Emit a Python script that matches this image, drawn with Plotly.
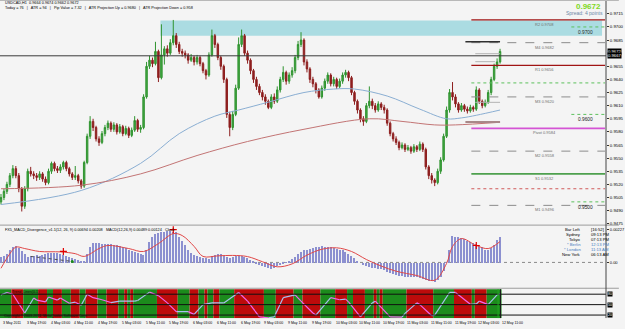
import plotly.graph_objects as go

# ---------------- data ----------------
date_labels = ["3 May 2011", "3 May 19:00", "4 May 03:00", "4 May 11:00", "4 May 19:00",
               "5 May 03:00", "5 May 11:00", "5 May 19:00", "6 May 03:00", "6 May 11:00",
               "6 May 19:00", "9 May 03:00", "9 May 11:00", "9 May 19:00", "10 May 03:00",
               "10 May 11:00", "10 May 19:00", "11 May 03:00", "11 May 11:00", "11 May 19:00",
               "12 May 03:00", "12 May 11:00"]
date_label_bars = [0, 8, 16, 24, 32, 40, 48, 56, 64, 72, 80, 88, 96, 104, 112, 120, 128,
                   136, 144, 152, 160, 168]

# USDCAD H1 candles, in pips (x 1e-4)
opens = [9500, 9505, 9512, 9520, 9530, 9538, 9530, 9515, 9495, 9515,
         9535, 9532, 9530, 9528, 9532, 9526, 9522, 9535, 9544, 9538,
         9536, 9540, 9545, 9538, 9532, 9528, 9530, 9524, 9518, 9545,
         9575, 9592, 9585, 9572, 9568, 9578, 9585, 9590, 9583, 9588,
         9580, 9586, 9578, 9584, 9576, 9582, 9593, 9583, 9585, 9620,
         9655, 9662, 9658, 9672, 9642, 9668, 9675, 9670, 9682, 9690,
         9680, 9672, 9670, 9668, 9662, 9665, 9660, 9665, 9658, 9650,
         9645, 9668, 9690, 9680, 9665, 9655, 9640, 9600, 9585, 9600,
         9630, 9680, 9690, 9670, 9662, 9650, 9640, 9632, 9625, 9620,
         9615, 9608, 9620, 9615, 9628, 9640, 9648, 9638, 9645, 9650,
         9665, 9680, 9685, 9660, 9652, 9640, 9635, 9628, 9620, 9630,
         9638, 9645, 9635, 9640, 9632, 9638, 9645, 9648, 9642, 9625,
         9615, 9605, 9595, 9592, 9610, 9615, 9610, 9605, 9612, 9608,
         9605, 9590, 9578, 9572, 9568, 9562, 9565, 9560, 9562, 9558,
         9563, 9560, 9566, 9560, 9540, 9530, 9525, 9522, 9535, 9548,
         9575, 9605, 9625, 9620, 9612, 9605, 9610, 9606, 9604, 9608,
         9606, 9628, 9615, 9610, 9614, 9625, 9640, 9655, 9660]
highs = [9509, 9515, 9523, 9533, 9542, 9541, 9533, 9517, 9518, 9538,
         9540, 9535, 9533, 9535, 9534, 9529, 9538, 9546, 9546, 9541,
         9543, 9547, 9547, 9540, 9534, 9541, 9532, 9526, 9547, 9578,
         9598, 9595, 9587, 9575, 9581, 9588, 9593, 9592, 9591, 9590,
         9589, 9588, 9587, 9586, 9585, 9598, 9595, 9588, 9623, 9660,
         9667, 9665, 9683, 9674, 9703, 9678, 9679, 9686, 9708, 9693,
         9683, 9675, 9673, 9670, 9669, 9667, 9668, 9667, 9660, 9652,
         9671, 9697, 9692, 9682, 9667, 9657, 9642, 9603, 9604, 9634,
         9688, 9697, 9692, 9673, 9664, 9652, 9643, 9635, 9628, 9623,
         9617, 9623, 9624, 9632, 9643, 9655, 9650, 9648, 9654, 9668,
         9684, 9694, 9687, 9663, 9654, 9643, 9637, 9630, 9633, 9641,
         9648, 9647, 9643, 9642, 9641, 9648, 9651, 9650, 9644, 9627,
         9617, 9607, 9598, 9613, 9632, 9618, 9613, 9615, 9614, 9611,
         9607, 9592, 9580, 9575, 9570, 9568, 9567, 9565, 9564, 9566,
         9565, 9569, 9568, 9562, 9542, 9533, 9527, 9538, 9551, 9578,
         9609, 9629, 9637, 9623, 9614, 9613, 9612, 9609, 9611, 9610,
         9632, 9630, 9617, 9617, 9628, 9643, 9658, 9664, 9675]
lows = [9497, 9502, 9509, 9517, 9527, 9527, 9511, 9489, 9492, 9512,
        9529, 9526, 9524, 9525, 9523, 9519, 9520, 9532, 9535, 9533,
        9533, 9537, 9535, 9529, 9525, 9525, 9521, 9515, 9516, 9543,
        9572, 9581, 9569, 9564, 9566, 9575, 9582, 9580, 9580, 9577,
        9578, 9575, 9576, 9573, 9574, 9580, 9580, 9579, 9583, 9618,
        9652, 9654, 9656, 9637, 9640, 9657, 9666, 9668, 9679, 9676,
        9669, 9666, 9664, 9658, 9660, 9656, 9657, 9655, 9647, 9640,
        9643, 9666, 9676, 9662, 9651, 9636, 9596, 9575, 9582, 9598,
        9628, 9677, 9667, 9658, 9646, 9636, 9628, 9622, 9616, 9611,
        9606, 9606, 9612, 9613, 9625, 9637, 9634, 9635, 9642, 9647,
        9662, 9677, 9656, 9648, 9636, 9631, 9624, 9618, 9618, 9627,
        9635, 9632, 9632, 9629, 9630, 9635, 9642, 9638, 9622, 9611,
        9601, 9591, 9587, 9590, 9607, 9606, 9602, 9603, 9605, 9601,
        9587, 9575, 9569, 9565, 9559, 9560, 9557, 9558, 9555, 9556,
        9557, 9558, 9557, 9537, 9526, 9521, 9518, 9520, 9532, 9546,
        9573, 9602, 9616, 9608, 9602, 9603, 9603, 9601, 9602, 9603,
        9604, 9612, 9607, 9608, 9612, 9622, 9638, 9652, 9658]
closes = [9505, 9512, 9520, 9530, 9538, 9530, 9515, 9495, 9515, 9535,
          9532, 9530, 9528, 9532, 9526, 9522, 9535, 9544, 9538, 9536,
          9540, 9545, 9538, 9532, 9528, 9530, 9524, 9518, 9545, 9575,
          9592, 9585, 9572, 9568, 9578, 9585, 9590, 9583, 9588, 9580,
          9586, 9578, 9584, 9576, 9582, 9593, 9583, 9585, 9620, 9655,
          9662, 9658, 9672, 9642, 9668, 9675, 9670, 9682, 9690, 9680,
          9672, 9670, 9668, 9662, 9665, 9660, 9665, 9658, 9650, 9645,
          9668, 9690, 9680, 9665, 9655, 9640, 9600, 9585, 9600, 9630,
          9680, 9690, 9670, 9662, 9650, 9640, 9632, 9625, 9620, 9615,
          9608, 9620, 9615, 9628, 9640, 9648, 9638, 9645, 9650, 9665,
          9680, 9685, 9660, 9652, 9640, 9635, 9628, 9620, 9630, 9638,
          9645, 9635, 9640, 9632, 9638, 9645, 9648, 9642, 9625, 9615,
          9605, 9595, 9592, 9610, 9615, 9610, 9605, 9612, 9608, 9605,
          9590, 9578, 9572, 9568, 9562, 9565, 9560, 9562, 9558, 9563,
          9560, 9566, 9560, 9540, 9530, 9525, 9522, 9535, 9548, 9575,
          9605, 9625, 9620, 9612, 9605, 9610, 9606, 9604, 9608, 9606,
          9628, 9615, 9610, 9614, 9625, 9640, 9655, 9660, 9672]

# moving averages (bar, pips)
ma_blue_bars = [0, 27, 47, 60, 72, 80, 90, 102, 112, 119, 130, 141, 150, 155, 160, 168]
ma_blue = [9497, 9513, 9544, 9578, 9598, 9605, 9614, 9625, 9629, 9629, 9621, 9606, 9595, 9596, 9599, 9605]
ma_red_bars = [0, 27, 47, 66, 83, 102, 124, 135, 146, 153, 168]
ma_red = [9515, 9519, 9532, 9553, 9569, 9583, 9595, 9592, 9588, 9588, 9591]

# pivot levels
pivot_names = ["R2", "M4", "R1", "M3", "Pivot", "M2", "S1", "M1"]
pivot_values = [0.9708, 0.9682, 0.9656, 0.9620, 0.9584, 0.9558, 0.9532, 0.9496]
round_levels = [0.9700, 0.9600, 0.9500]
zone_low, zone_high = 0.9690, 0.97073
hline_price = 0.9667
bid, ask_line = 0.9672, 0.9667
dotted_green_level, dotted_red_level = 0.9636, 0.9515
short_levels = [0.96831, 0.96694, 0.96603, 0.96138, 0.95913]

price_ticks = [0.9730, 0.9715, 0.9700, 0.9685, 0.9655, 0.9640, 0.9625, 0.9610, 0.9595,
               0.9580, 0.9565, 0.9550, 0.9535, 0.9520, 0.9505, 0.9490, 0.9475]

# MACD histogram (x 1e-5)
macd_hist = [40, 45, 60, 85, 110, 115, 100, 80, 60, 40,
             45, 50, 52, 50, 55, 60, 65, 68, 66, 64,
             60, 55, 48, 42, 36, 28, 20, 12, 10, 60,
             110, 135, 138, 135, 130, 128, 130, 128, 125, 120,
             112, 105, 98, 90, 82, 75, 68, 60, 55, 90,
             140, 175, 195, 205, 210, 212, 215, 218, 214, 208,
             180, 150, 120, 90, 70, 55, 45, 40, 35, 30,
             28, 45, 55, 60, 58, 50, 40, 35, 38, 45,
             50, 48, 40, 30, 20, 8, -5, -15, -25, -32,
             -38, -40, -35, -25, -15, -5, 5, 15, 25, 40,
             60, 75, 85, 90, 95, 100, 105, 110, 112, 110,
             108, 105, 100, 95, 90, 85, 75, 60, 45, 30,
             15, 0, -15, -25, -30, -35, -38, -40, -45, -52,
             -60, -70, -78, -85, -90, -93, -95, -96, -97, -98,
             -100, -102, -108, -115, -122, -128, -129, -120, -95, -55,
             5, 90, 184, 180, 176, 170, 160, 150, 142, 135,
             128, 115, 105, 90, 88, 100, 125, 155, 177]
signal_bars = [0, 3, 5, 8, 13, 20, 25, 28, 33, 36, 43, 48, 53, 58, 61, 65, 68, 73, 78, 83,
               88, 93, 98, 103, 108, 113, 118, 123, 128, 133, 140, 146, 150, 152, 155, 160, 164, 168]
signal_vals = [-40, 60, 105, 95, 75, 72, 60, 41, 95, 116, 95, 75, 129, 197, 184, 110, 41, 45, 48, 40,
               5, -30, -10, 50, 90, 100, 75, 20, -25, -60, -90, -122, -7, 109, 163, 116, 95, 143]
peak_marks_bars = [21, 58, 160]
peak_marks_vals = [75, 224, 116]
trough_mark_bars = [24]
trough_mark_vals = [7]
div_bars = [10, 24]
div_vals = [41, 7]

clock_names = ["Bar Left", "Sydney", "Tokyo", "* Berlin", "* London", "New York"]
clock_times = ["[16:52]", "09:13 PM", "07:13 PM", "12:13 PM", "11:13 AM", "06:13 AM"]

# bottom oscillator
osc_bars = [0, 2, 4, 8, 11, 12, 15, 16, 19, 20, 23, 25, 27, 29, 31, 34, 37, 40, 45, 46,
            50, 53, 56, 59, 63, 65, 68, 71, 75, 80, 83, 87, 90, 92, 95, 99, 101, 105, 106, 111,
            114, 116, 117, 121, 125, 126, 131, 135, 136, 140, 141, 145, 146, 151, 153, 158, 160,
            161, 164, 167, 168]
osc_vals = [78, 85, 80, 26, 69, 63, 58, 72, 63, 69, 54, 57, 48, 80, 70, 64, 56, 60, 60, 62,
            86, 76, 55, 30, 30, 22, 50, 55, 55, 85, 60, 15, 12, 15, 70, 78, 60, 26, 20, 70,
            64, 66, 58, 15, 55, 60, 15, 14, 25, 55, 50, 18, 20, 85, 85, 51, 52, 60, 50, 78, 80]
osc_levels = [80, 50, 20]
band_edges = [-0.5, 3.5, 7.5, 12.5, 15.5, 17.5, 20.5, 23.5, 26.5, 28.5,
              32.5, 35.5, 39.5, 41.5, 42.5, 43.5, 44.5, 52.5, 59.5, 63.5,
              66.5, 68.5, 69.5, 71.5, 73.5, 78.5, 88.5, 92.5, 98.5, 101.5,
              107.5, 112.5, 116.5, 118.5, 122.5, 125.5, 126.5, 127.5, 128.5, 136.5,
              145.5, 152.5, 158.5, 159.5, 163.5, 168.5]
band_trend = ["G", "R"] * 22 + ["G"]

N = len(closes)
assert len(opens) == N and len(highs) == N and len(lows) == N and len(macd_hist) == N
assert len(band_trend) == len(band_edges) - 1
bars = list(range(N))

# ---------------- geometry helpers ----------------
W, H = 625, 329
PLOT_W = 612


def bx(px):
    return (px - 1.0) / 3.0


def py(px):
    return 1.0 - px / H


def pxx(px):
    return px / PLOT_W


def price_at(px):
    return 0.9730 - (px - 0.7) / 8800.0


FONT = "Liberation Sans, Arial, sans-serif"
BG = "#f4f4f4"

fig = go.Figure()

# ---------------- main chart ----------------
fig.add_trace(go.Candlestick(
    x=bars, open=[v / 1e4 for v in opens], high=[v / 1e4 for v in highs],
    low=[v / 1e4 for v in lows], close=[v / 1e4 for v in closes],
    increasing=dict(line=dict(color="#2f932f", width=1), fillcolor="#44a844"),
    decreasing=dict(line=dict(color="#8e1f1f", width=1), fillcolor="#8e1f1f"),
    whiskerwidth=0, showlegend=False, xaxis="x", yaxis="y", hoverinfo="skip"))
fig.add_trace(go.Scatter(x=ma_blue_bars, y=[v / 1e4 for v in ma_blue], mode="lines",
                         line=dict(color="#8aaed2", width=1, shape="spline"),
                         showlegend=False, xaxis="x", yaxis="y", hoverinfo="skip"))
fig.add_trace(go.Scatter(x=ma_red_bars, y=[v / 1e4 for v in ma_red], mode="lines",
                         line=dict(color="#c27474", width=1, shape="spline"),
                         showlegend=False, xaxis="x", yaxis="y", hoverinfo="skip"))

# ---------------- MACD panel ----------------
fig.add_trace(go.Bar(x=bars, y=[v / 1e5 for v in macd_hist], width=0.4,
                     marker=dict(color="#8c90d0", line=dict(width=0)),
                     showlegend=False, xaxis="x2", yaxis="y2", hoverinfo="skip"))
fig.add_trace(go.Scatter(x=signal_bars, y=[v / 1e5 for v in signal_vals], mode="lines",
                         line=dict(color="#e04848", width=1, shape="spline"),
                         showlegend=False, xaxis="x2", yaxis="y2", hoverinfo="skip"))
fig.add_trace(go.Scatter(x=div_bars, y=[v / 1e5 for v in div_vals], mode="lines",
                         line=dict(color="#505050", width=1, dash="dot"),
                         showlegend=False, xaxis="x2", yaxis="y2", hoverinfo="skip"))
fig.add_trace(go.Scatter(x=peak_marks_bars, y=[v / 1e5 for v in peak_marks_vals], mode="markers",
                         marker=dict(symbol="cross-thin", size=5, line=dict(color="#e00000", width=1.2)),
                         showlegend=False, xaxis="x2", yaxis="y2", hoverinfo="skip"))
fig.add_trace(go.Scatter(x=trough_mark_bars, y=[v / 1e5 for v in trough_mark_vals], mode="markers",
                         marker=dict(symbol="circle", size=3, color="#1a8a1a"),
                         showlegend=False, xaxis="x2", yaxis="y2", hoverinfo="skip"))

# ---------------- oscillator panel ----------------
up_x, up_y, dn_x, dn_y = [], [], [], []
for k in range(len(osc_bars) - 1):
    seg_x = [osc_bars[k], osc_bars[k + 1], None]
    seg_y = [osc_vals[k], osc_vals[k + 1], None]
    if osc_vals[k + 1] >= osc_vals[k]:
        up_x += seg_x
        up_y += seg_y
    else:
        dn_x += seg_x
        dn_y += seg_y
fig.add_trace(go.Scatter(x=up_x, y=up_y, mode="lines", line=dict(color="#a9bff0", width=1.2),
                         showlegend=False, xaxis="x3", yaxis="y3", hoverinfo="skip",
                         connectgaps=False))
fig.add_trace(go.Scatter(x=dn_x, y=dn_y, mode="lines", line=dict(color="#f266ee", width=1.2),
                         showlegend=False, xaxis="x3", yaxis="y3", hoverinfo="skip",
                         connectgaps=False))

shapes = []
# supply zone
shapes.append(dict(type="rect", xref="x", yref="y", x0=bx(162), x1=bx(608), y0=zone_low, y1=zone_high,
                   fillcolor="#abdce2", line=dict(width=0), layer="below"))
# full-width horizontal line
shapes.append(dict(type="line", xref="x", yref="y", x0=bx(0), x1=bx(PLOT_W), y0=hline_price, y1=hline_price,
                   line=dict(color="#3a3a3a", width=1)))
# pivot levels
pivot_style = {"R2": ("#a01414", "solid", 1.2), "R1": ("#a01414", "solid", 1.2),
               "M4": ("#8c8c8c", "dash", 1), "M3": ("#8c8c8c", "dash", 1),
               "M2": ("#8c8c8c", "dash", 1), "M1": ("#8c8c8c", "dash", 1),
               "Pivot": ("#d454d4", "solid", 1.6), "S1": ("#4ea04e", "solid", 1.6)}
for name, val in zip(pivot_names, pivot_values):
    c, d, w = pivot_style[name]
    shapes.append(dict(type="line", xref="x", yref="y", x0=bx(476), x1=bx(611), y0=val, y1=val,
                       line=dict(color=c, width=w, dash=d)))
shapes.append(dict(type="line", xref="x", yref="y", x0=bx(476), x1=bx(611), y0=dotted_green_level,
                   y1=dotted_green_level, line=dict(color="#5cc05c", width=1, dash="dot")))
shapes.append(dict(type="line", xref="x", yref="y", x0=bx(476), x1=bx(611), y0=dotted_red_level,
                   y1=dotted_red_level, line=dict(color="#d05a5a", width=1, dash="dot")))
for lv in round_levels:
    shapes.append(dict(type="line", xref="x", yref="y", x0=bx(577), x1=bx(PLOT_W), y0=lv, y1=lv,
                       line=dict(color="#5cc05c", width=1, dash="dot")))
short_style = [("#303030", 1.4, 470, 505), ("#b4b4b4", 1, 480, 505), ("#b4b4b4", 1, 480, 500),
               ("#b4b4b4", 1, 480, 505), ("#a88888", 2, 470, 505)]
for lv, (c, w, a, b) in zip(short_levels, short_style):
    shapes.append(dict(type="line", xref="x", yref="y", x0=bx(a), x1=bx(b), y0=lv, y1=lv,
                       line=dict(color=c, width=w)))
# MACD zero level
shapes.append(dict(type="line", xref="x2", yref="y2", x0=bx(0), x1=bx(PLOT_W), y0=0, y1=0,
                   line=dict(color="#8a8a8a", width=1, dash="dot"), layer="below"))
# oscillator colour bands
band_col = {"G": "#1c8b1c", "R": "#bd0b0b"}
for k, t in enumerate(band_trend):
    shapes.append(dict(type="rect", xref="x3", yref="y3 domain", x0=band_edges[k], x1=band_edges[k + 1],
                       y0=0, y1=1, fillcolor=band_col[t], line=dict(width=0), layer="below"))
for lv in osc_levels:
    shapes.append(dict(type="line", xref="x3", yref="y3", x0=bx(0), x1=bx(PLOT_W), y0=lv, y1=lv,
                       line=dict(color="#111111", width=1)))
shapes.append(dict(type="line", xref="x3", yref="y3 domain", x0=bx(503), x1=bx(503), y0=0, y1=1,
                   line=dict(color="#22aa22", width=1)))
shapes.append(dict(type="line", xref="x3", yref="y3 domain", x0=bx(505.5), x1=bx(505.5), y0=0, y1=1,
                   line=dict(color="#1a1a1a", width=1)))
# panel separators and axis line
for ysep in (226.5, 290.0):
    shapes.append(dict(type="line", xref="paper", yref="paper", x0=0, x1=W / PLOT_W, y0=py(ysep), y1=py(ysep),
                       line=dict(color="#9c9c9c", width=1)))
shapes.append(dict(type="line", xref="paper", yref="paper", x0=1, x1=1, y0=py(0), y1=py(320),
                   line=dict(color="#444444", width=1)))
shapes.append(dict(type="line", xref="paper", yref="paper", x0=0, x1=W / PLOT_W, y0=py(0.5), y1=py(0.5),
                   line=dict(color="#b8b8b8", width=1)))

ann = []


def A(text, x, y, size=4.3, color="#000000", xanchor="left", yanchor="middle", xref="paper",
      yref="paper", **kw):
    d = dict(text=text, x=x, y=y, xref=xref, yref=yref, showarrow=False, xanchor=xanchor,
             yanchor=yanchor, font=dict(size=size, color=color, family=FONT))
    d.update(kw)
    ann.append(d)


A("USDCAD,H1  0.9664 0.9674 0.9662 0.9672", pxx(3), py(2.6), size=3.8)
A("Today = 76   |   ATR = 94   |   Pip Value = 7.32   |   ATR Projection Up = 0.9680   |   "
  "ATR Projection Down = 0.958", pxx(3), py(8.2), size=3.8)
A("<b>0.9672</b>", pxx(594), py(6.3), size=8, color="#7fd81e", xanchor="center")
A("Spread: 4 points", pxx(590), py(13.5), size=5, color="#6c88a6", xanchor="center")
for name, val in zip(pivot_names, pivot_values):
    A(f"{name} {val:.4f}", bx(550), val, size=4, color="#6e6e6e", xanchor="center",
      yanchor="top", xref="x", yref="y", yshift=0)
A("0.9700", pxx(582), 0.9700, size=4.8, color="#2a2a2a", xref="paper", yref="y", yanchor="top", yshift=-1)
for lv in round_levels[1:]:
    A(f"{lv:.4f}", pxx(582), lv, size=4.8, color="#1a1a1a", xref="paper", yref="y",
      yanchor="top", yshift=-1)
A(f"{bid:.4f}", pxx(613), bid, size=4.2, color="#ffffff", xref="paper", yref="y",
  bgcolor="#000000", borderpad=0)
A(f"{ask_line:.4f}", pxx(613), ask_line, size=4.2, color="#ffffff", xref="paper", yref="y",
  bgcolor="#000000", borderpad=0)

A("FX5_MACD_Divergence_v1.1(12, 26, 9) 0.00694 0.00208   MACD(12,26,9) 0.00489 0.00124   Clock",
  pxx(3), py(231), size=3.8)
clock_y = [231, 236, 240.8, 245.8, 251, 256]
for nm, tm, yy in zip(clock_names, clock_times, clock_y):
    col = "#4a7cc0" if nm.startswith("*") else "#000000"
    A(nm, pxx(589), py(yy), size=4.2, color=col, xanchor="right")
    A(tm, pxx(595), py(yy), size=4.2, color=col, xanchor="left")

A("Trend_Lines(0.1)", pxx(10), py(294), size=3.6, color="#111111")
A("Copyright © 2003-2011, MetaQuotes Software Corp.", pxx(2), py(317.5), size=3.6, color="#111111")
for lv, yy in zip(osc_levels, (296, 306.7, 317)):
    A(str(lv), pxx(613), py(yy), size=3.6, color="#ffffff", bgcolor="#000000", borderpad=0)

for lab, b in zip(date_labels, date_label_bars):
    A(lab, b, py(324.5), size=3.5, xref="x", xanchor="left")

xr = [bx(0), bx(PLOT_W)]
fig.update_layout(
    width=W, height=H, margin=dict(l=0, r=W - PLOT_W, t=0, b=0, pad=0),
    paper_bgcolor=BG, plot_bgcolor=BG, showlegend=False, bargap=0,
    font=dict(family=FONT, size=4.5, color="#000000"),
    xaxis=dict(domain=[0, 1], range=xr, visible=False, rangeslider=dict(visible=False),
               anchor="y", fixedrange=True),
    xaxis2=dict(domain=[0, 1], range=xr, visible=False, matches="x", anchor="y2"),
    xaxis3=dict(domain=[0, 1], range=xr, visible=False, matches="x", anchor="y3"),
    yaxis=dict(domain=[py(226), py(0)], range=[price_at(226), price_at(0)], side="right",
               anchor="x", tickvals=price_ticks, ticktext=[f"{t:.4f}" for t in price_ticks],
               ticks="outside", ticklen=2, tickcolor="#333333", tickfont=dict(size=4.3),
               showgrid=False, zeroline=False, showline=False),
    yaxis2=dict(domain=[py(289), py(227)], range=[-0.0017, 0.00252], side="right", anchor="x2",
                tickvals=[0.00227, 0.0, -0.00172], ticktext=["0.00227", "0.00", "-0.00172"],
                ticks="outside", ticklen=2, tickcolor="#333333", tickfont=dict(size=4.0),
                showgrid=False, zeroline=False, showline=False),
    yaxis3=dict(domain=[py(320), py(291)], range=[11.4, 94.3], side="right", anchor="x3",
                showticklabels=False, ticks="", showgrid=False, zeroline=False, showline=False),
    shapes=shapes, annotations=ann,
)

fig.write_html("out.html")
